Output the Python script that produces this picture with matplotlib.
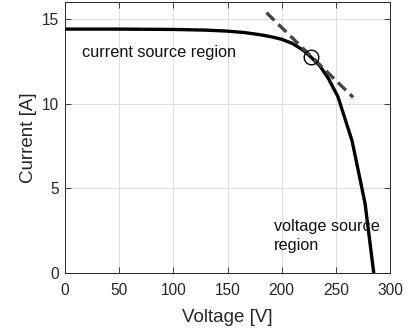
import matplotlib
matplotlib.use("Agg")
import matplotlib.pyplot as plt

plt.rcParams['font.family'] = ['Liberation Sans', 'DejaVu Sans']

# I-V curve of the PV array
voltage = [0, 50, 100, 130, 150, 165, 180, 190, 200, 210, 220, 227, 235, 243, 252, 265, 277, 285]
current = [14.4, 14.4, 14.38, 14.34, 14.28, 14.2, 14.07, 13.95, 13.8, 13.55, 13.15,
           12.75, 12.25, 11.5, 10.4, 7.8, 4.1, 0]

# tangent at the knee (MPP)
tangent_v = [186, 266]
tangent_i = [15.37, 10.37]
mpp_v = [227]
mpp_i = [12.75]

x_ticks = [0, 50, 100, 150, 200, 250, 300]
y_ticks = [0, 5, 10, 15]

fig = plt.figure(figsize=(4.10, 3.33), dpi=100)
ax = fig.add_axes([65 / 410, 60 / 333, 325 / 410, 271 / 333])

ax.plot(voltage, current, color='black', linewidth=2.4)
ax.plot(tangent_v, tangent_i, color='#444444', linewidth=2.4, linestyle=(0, (3.3, 1.7)))
ax.plot(mpp_v, mpp_i, 'o', markerfacecolor='none', markeredgecolor='black',
        markersize=10.5, markeredgewidth=1.0)

ax.text(16, 13.0, 'current source region', fontsize=11.7, va='center', color='#111111')
ax.text(193, 2.2, 'voltage source\nregion', fontsize=11.7, va='center',
        color='#111111', linespacing=1.35)

ax.set_xlim(0, 300)
ax.set_ylim(0, 16)
ax.set_xticks(x_ticks)
ax.set_yticks(y_ticks)
ax.grid(True, color='#dddddd', linewidth=0.7)
ax.set_axisbelow(True)
ax.tick_params(direction='in', top=True, right=True, labelsize=11.2,
               colors='#262626', length=4, width=0.6, pad=4)
ax.tick_params(axis='x', pad=7)
for s in ax.spines.values():
    s.set_color('#262626')
    s.set_linewidth(0.7)

ax.set_xlabel('Voltage [V]', fontsize=13.5, color='#262626', labelpad=8)
ax.set_ylabel('Current [A]', fontsize=13.5, color='#262626', labelpad=4)

fig.savefig('out.png', dpi=100)
